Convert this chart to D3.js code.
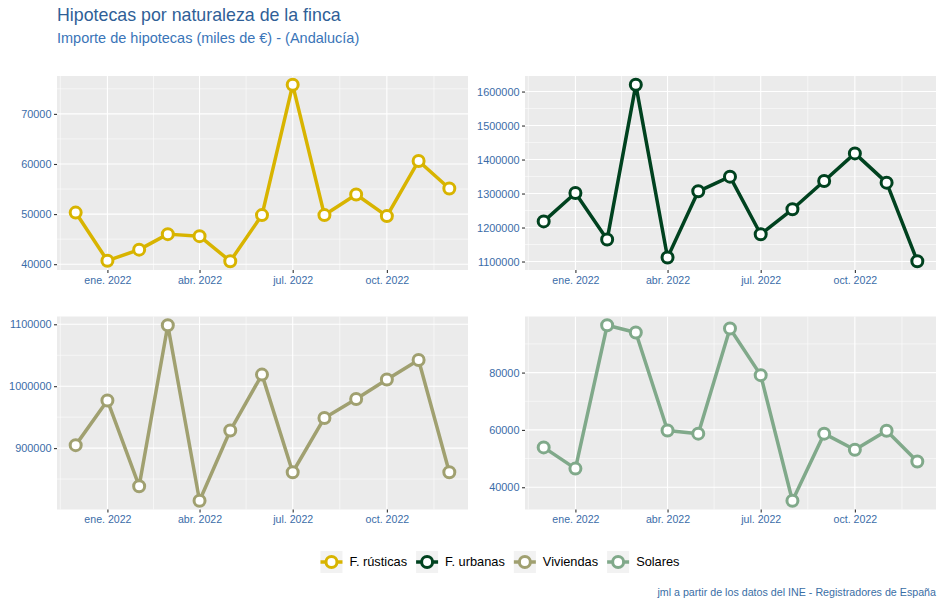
<!DOCTYPE html>
<html>
<head>
<meta charset="utf-8">
<script src="https://cdn.jsdelivr.net/npm/d3@7"></script>
<style>
  html, body { margin: 0; padding: 0; background: #fff; }
  svg { display: block; font-family: "Liberation Sans", Arial, sans-serif; }
</style>
</head>
<body>
<svg id="chart" width="944" height="607"></svg>
<script>
// ---------- DATA ----------
const months = ["2021-12-01","2022-01-01","2022-02-01","2022-03-01","2022-04-01","2022-05-01","2022-06-01",
                "2022-07-01","2022-08-01","2022-09-01","2022-10-01","2022-11-01","2022-12-01"];
const seriesNames = ["F. rústicas", "F. urbanas", "Viviendas", "Solares"];
const rusticas  = [50300, 40700, 42900, 46000, 45600, 40600, 49800, 75800, 49800, 53900, 49600, 60600, 55100];
const urbanas   = [1218000, 1301500, 1164600, 1619800, 1111700, 1306500, 1349600, 1180200, 1253600, 1336700, 1418100, 1332000, 1101000];
const viviendas = [904800, 977000, 838500, 1098400, 815000, 928400, 1018700, 861000, 948700, 979200, 1010700, 1042300, 861000];
const solares   = [53900, 46500, 96500, 94000, 59800, 58700, 95400, 79100, 35300, 58700, 53100, 59700, 49000];
const yTicksRusticas  = [40000, 50000, 60000, 70000];
const yTicksUrbanas   = [1100000, 1200000, 1300000, 1400000, 1500000, 1600000];
const yTicksViviendas = [900000, 1000000, 1100000];
const yTicksSolares   = [40000, 60000, 80000];
const xTickDates  = ["2022-01-01", "2022-04-01", "2022-07-01", "2022-10-01"];
const xTickLabels = ["ene. 2022", "abr. 2022", "jul. 2022", "oct. 2022"];
const titleText = "Hipotecas por naturaleza de la finca";
const subtitleText = "Importe de hipotecas (miles de €) - (Andalucía)";
const captionText = "jml a partir de los datos del INE - Registradores de España";

// ---------- STYLE / LAYOUT ----------
const colors = ["#D8B400", "#00421F", "#A0A070", "#80A98A"];
const panelBg = "#EBEBEB";
const tickColor = "#3B6CA8";
const panels = [
  { x: 57,  y: 76,    w: 411, h: 194 },
  { x: 525, y: 76,    w: 411, h: 194 },
  { x: 57,  y: 316.5, w: 411, h: 193 },
  { x: 525, y: 316.5, w: 411, h: 193 }
];
const values = [rusticas, urbanas, viviendas, solares];
const yTicks = [yTicksRusticas, yTicksUrbanas, yTicksViviendas, yTicksSolares];

const parse = d3.timeParse("%Y-%m-%d");
const dates = months.map(parse);
const tickDates = xTickDates.map(parse);

const svg = d3.select("#chart");

// Title & subtitle
svg.append("text").attr("x", 57).attr("y", 20.5)
  .attr("font-size", 17.8).attr("fill", "#2F5F97").text(titleText);
svg.append("text").attr("x", 57).attr("y", 43.3)
  .attr("font-size", 14.5).attr("fill", "#3A75B8").text(subtitleText);

function expand(ext, f) {
  const r = ext[1] - ext[0];
  return [ext[0] - r * f, ext[1] + r * f];
}

function midpoints(arr) {
  const out = [];
  const n = arr.length;
  const v = arr.map(d => +d);
  out.push(v[0] - (v[1] - v[0]) / 2);
  for (let i = 0; i < n - 1; i++) out.push((v[i] + v[i + 1]) / 2);
  out.push(v[n - 1] + (v[n - 1] - v[n - 2]) / 2);
  return out;
}

const xMajorExt = [d3.timeMonth.offset(tickDates[0], -3), ...tickDates, d3.timeMonth.offset(tickDates[tickDates.length - 1], 3)];
const xMinor = [];
for (let i = 0; i < xMajorExt.length - 1; i++) xMinor.push(new Date((+xMajorExt[i] + +xMajorExt[i + 1]) / 2));

panels.forEach((p, i) => {
  const vals = values[i];
  const xDom = expand(d3.extent(dates, d => +d), 0.05);
  const x = d3.scaleTime().domain(xDom.map(d => new Date(d))).range([p.x, p.x + p.w]);
  const y = d3.scaleLinear().domain(expand(d3.extent(vals), 0.05)).range([p.y + p.h, p.y]);
  const yd = y.domain();

  const g = svg.append("g");
  g.append("rect").attr("x", p.x).attr("y", p.y).attr("width", p.w).attr("height", p.h).attr("fill", panelBg);

  const yMinor = midpoints(yTicks[i]).filter(v => v >= yd[0] && v <= yd[1]);
  g.selectAll(".ymin").data(yMinor).join("line")
    .attr("x1", p.x).attr("x2", p.x + p.w)
    .attr("y1", d => y(d)).attr("y2", d => y(d))
    .attr("stroke", "#fff").attr("stroke-width", 0.55);
  g.selectAll(".xmin").data(xMinor.filter(d => d >= x.domain()[0] && d <= x.domain()[1])).join("line")
    .attr("x1", d => x(d)).attr("x2", d => x(d))
    .attr("y1", p.y).attr("y2", p.y + p.h)
    .attr("stroke", "#fff").attr("stroke-width", 0.55);
  g.selectAll(".ymaj").data(yTicks[i]).join("line")
    .attr("x1", p.x).attr("x2", p.x + p.w)
    .attr("y1", d => y(d)).attr("y2", d => y(d))
    .attr("stroke", "#fff").attr("stroke-width", 1.1);
  g.selectAll(".xmaj").data(tickDates).join("line")
    .attr("x1", d => x(d)).attr("x2", d => x(d))
    .attr("y1", p.y).attr("y2", p.y + p.h)
    .attr("stroke", "#fff").attr("stroke-width", 1.1);

  const xAxis = d3.axisBottom(x).tickValues(tickDates)
    .tickFormat((d, k) => xTickLabels[k]).tickSize(3).tickPadding(3);
  const gx = svg.append("g").attr("transform", `translate(0,${p.y + p.h})`).call(xAxis);
  gx.select(".domain").remove();
  gx.selectAll(".tick line").attr("stroke", "#333").attr("stroke-width", 1.1);
  gx.selectAll(".tick text").attr("fill", tickColor).attr("font-size", 10.6)
    .attr("font-family", "Liberation Sans, Arial, sans-serif");

  const yAxis = d3.axisLeft(y).tickValues(yTicks[i]).tickFormat(d3.format("d")).tickSize(3).tickPadding(2.5);
  const gy = svg.append("g").attr("transform", `translate(${p.x},0)`).call(yAxis);
  gy.select(".domain").remove();
  gy.selectAll(".tick line").attr("stroke", "#333").attr("stroke-width", 1.1);
  gy.selectAll(".tick text").attr("fill", tickColor).attr("font-size", 10.9)
    .attr("font-family", "Liberation Sans, Arial, sans-serif");

  const data = dates.map((d, k) => ({ d, v: vals[k] }));
  const line = d3.line().x(d => x(d.d)).y(d => y(d.v));
  svg.append("path").datum(data).attr("d", line)
    .attr("fill", "none").attr("stroke", colors[i]).attr("stroke-width", 3.5)
    .attr("stroke-linejoin", "round");
  svg.append("g").selectAll("circle").data(data).join("circle")
    .attr("cx", d => x(d.d)).attr("cy", d => y(d.v)).attr("r", 5.5)
    .attr("fill", "#fff").attr("stroke", colors[i]).attr("stroke-width", 3);
});

// Legend
const legend = svg.append("g");
const keyW = 22, keyGap = 7, itemGap = 9, legendY = 562;
let cursor = 0;
seriesNames.forEach((name, i) => {
  const it = legend.append("g");
  it.append("rect").attr("x", 0).attr("y", -keyW / 2).attr("width", keyW).attr("height", keyW).attr("fill", "#F2F2F2");
  it.append("line").attr("x1", 0).attr("x2", keyW).attr("y1", 0).attr("y2", 0)
    .attr("stroke", colors[i]).attr("stroke-width", 3.5);
  it.append("circle").attr("cx", keyW / 2).attr("cy", 0).attr("r", 5.5)
    .attr("fill", "#fff").attr("stroke", colors[i]).attr("stroke-width", 3);
  const t = it.append("text").attr("x", keyW + keyGap).attr("y", 0).attr("dy", "0.35em")
    .attr("font-size", 12.8).attr("fill", "#000").text(name);
  const w = keyW + keyGap + t.node().getComputedTextLength();
  it.attr("transform", `translate(${cursor},${legendY})`);
  cursor += w + itemGap;
});
const totalW = cursor - itemGap;
legend.attr("transform", `translate(${500 - totalW / 2},0)`);

// Caption
svg.append("text").attr("x", 936).attr("y", 596).attr("text-anchor", "end")
  .attr("font-size", 10.7).attr("fill", "#3A6EA5").text(captionText);
</script>
</body>
</html>
